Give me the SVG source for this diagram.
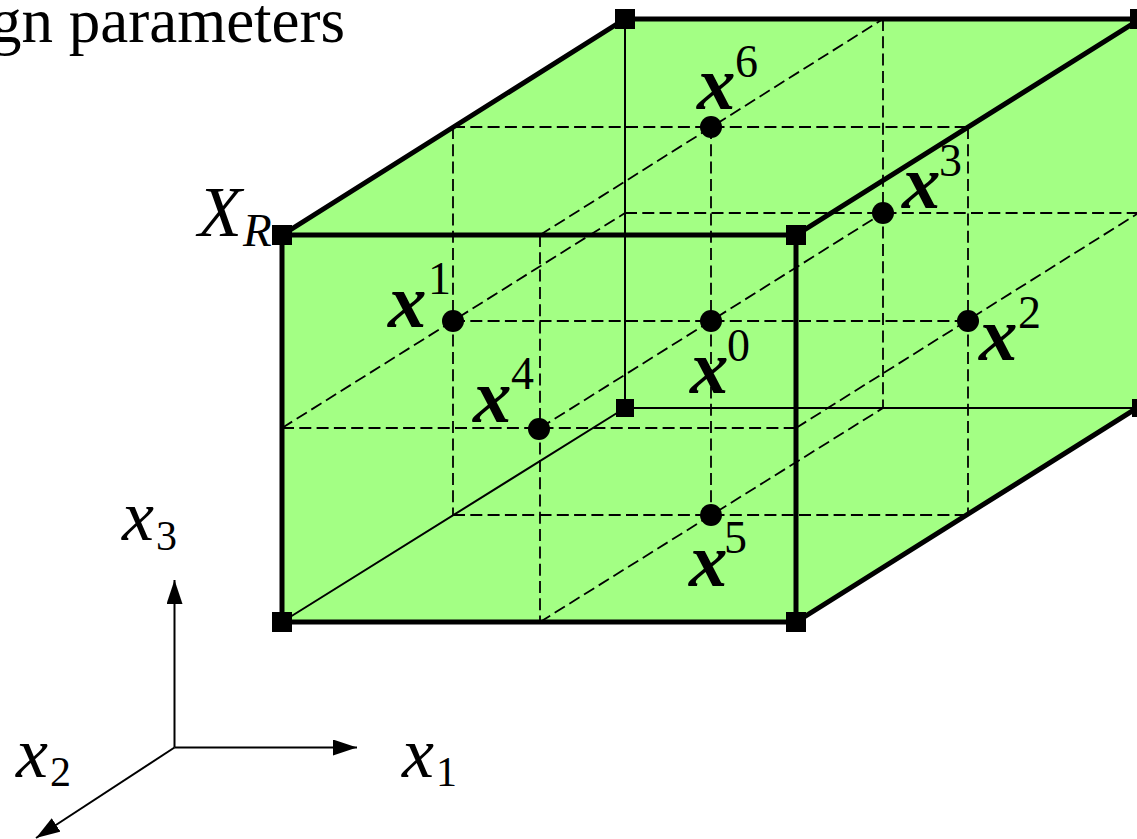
<svg xmlns="http://www.w3.org/2000/svg" width="1137" height="839" viewBox="0 0 1137 839">
<style>
.t{font-family:"Liberation Serif",serif;font-size:72px;font-style:italic;fill:#000}
.b{font-family:"Liberation Serif",serif;font-size:77px;font-style:italic;font-weight:bold;fill:#000}
.s{font-family:"Liberation Serif",serif;font-size:46px;fill:#000}
.u{font-family:"Liberation Serif",serif;font-size:42px;fill:#000}
.si{font-family:"Liberation Serif",serif;font-size:47px;font-style:italic;fill:#000}
.e{stroke:#000;stroke-width:5;fill:none;stroke-linecap:square}
.h{stroke:#000;stroke-width:2;fill:none}
.d{stroke:#000;stroke-width:1.8;fill:none;stroke-dasharray:12 5.3}
.c{fill:#000;stroke:none}
</style>
<defs>
<marker id="a" markerUnits="userSpaceOnUse" markerWidth="26" markerHeight="20" refX="24" refY="8" orient="auto"><path d="M0 0L24 8L0 16z" fill="#000"/></marker>
<rect id="q" x="-10" y="-10" width="20" height="20" fill="#000"/>
</defs>
<text x="-10" y="42" font-family="Liberation Serif, serif" font-size="63" fill="#000">gn parameters</text>
<g id="faces">
<polygon points="282,235 625,19 1140,19 1140,408 796,622 282,622" fill="#a3ff84"/>
</g>
<g id="connectors">
<path class="h" d="M625 19V408M625 408H1137M625 408L282 622"/>
<path class="d" d="M453 127H968M453 515H968M282 428H796M453 321H968M625 213H1137"/>
<path class="d" d="M453 127V515M540 235V622M711 127V515M883 19V408M968 127V515"/>
<path class="d" d="M282 428L625 213M540 235L883 19M540 428L883 213M540 622L883 408M796 428L1137 214"/>
<path class="e" d="M282 235H796V622H282ZM282 235L625 19H1137M796 235L1137 21M796 622L1137 408"/>
<path class="h" marker-end="url(#a)" d="M174.500 747.500V580"/>
<path class="h" marker-end="url(#a)" d="M174.500 747.500H357"/>
<path class="h" marker-end="url(#a)" d="M174.500 747.500L36 838"/>
</g>
<g id="corners">
<use href="#q" x="282" y="235"/><use href="#q" x="796" y="235"/><use href="#q" x="282" y="622"/><use href="#q" x="796" y="622"/><use href="#q" x="625" y="19"/><use href="#q" x="1140" y="19"/>
<rect x="616" y="399" width="18" height="18" fill="#000"/><rect x="1132" y="399" width="18" height="18" fill="#000"/>
</g>
<g id="x0"><circle class="c" cx="711" cy="321" r="11"/><text class="b" x="690" y="393">x</text><text class="s" x="727" y="361">0</text></g>
<g id="x1"><circle class="c" cx="453" cy="321" r="11"/><text class="b" x="388" y="327">x</text><text class="s" x="428" y="294">1</text></g>
<g id="x2"><circle class="c" cx="968" cy="321" r="11"/><text class="b" x="979" y="360">x</text><text class="s" x="1018" y="328">2</text></g>
<g id="x3"><circle class="c" cx="883" cy="213" r="11"/><text class="b" x="902" y="208">x</text><text class="s" x="939" y="176">3</text></g>
<g id="x4"><circle class="c" cx="539" cy="429" r="11"/><text class="b" x="473" y="422">x</text><text class="s" x="511" y="389">4</text></g>
<g id="x5"><circle class="c" cx="711" cy="515" r="11"/><text class="b" x="689" y="586">x</text><text class="s" x="724" y="553">5</text></g>
<g id="x6"><circle class="c" cx="711" cy="127" r="11"/><text class="b" x="697" y="109">x</text><text class="s" x="735" y="77">6</text></g>
<g id="XR"><text class="t" x="198" y="236">X</text><text class="si" x="243" y="246">R</text></g>
<g id="axes">
<text class="t" x="122" y="540">x</text><text class="u" x="156" y="550">3</text>
<text class="t" x="402" y="777">x</text><text class="u" x="436" y="786">1</text>
<text class="t" x="16" y="777">x</text><text class="u" x="50" y="786">2</text>
</g>
</svg>
